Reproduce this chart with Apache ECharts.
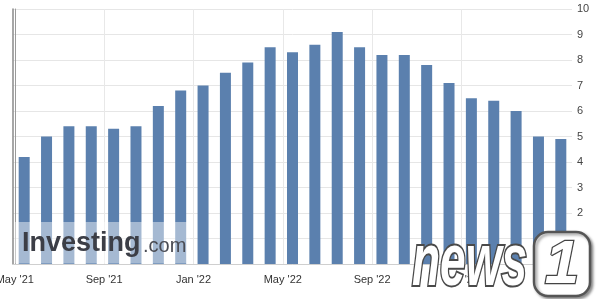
<!DOCTYPE html>
<html><head><meta charset="utf-8">
<script src="https://cdn.jsdelivr.net/npm/echarts@6/dist/echarts.min.js"></script>
<style>html,body{margin:0;padding:0;background:#fff}#c{width:600px;height:299px}</style>
</head><body><div id="c"></div>
<script>
const months = ["Apr '21","May '21","Jun '21","Jul '21","Aug '21","Sep '21","Oct '21","Nov '21","Dec '21",
  "Jan '22","Feb '22","Mar '22","Apr '22","May '22","Jun '22","Jul '22","Aug '22","Sep '22","Oct '22","Nov '22","Dec '22",
  "Jan '23","Feb '23","Mar '23","Apr '23"];
const cpiValues = [4.2,5.0,5.4,5.4,5.3,5.4,6.2,6.8,7.0,7.5,7.9,8.5,8.3,8.6,9.1,8.5,8.2,8.2,7.8,7.1,6.5,6.4,6.0,5.0,4.9];
const tickMonths = [0,4,8,12,16,20];
const tickLabels = ["May '21","Sep '21","Jan '22","May '22","Sep '22","Jan '23"];

const chart = echarts.init(document.getElementById('c'), null, {renderer:'canvas'});
const FONT = 'Liberation Sans, Arial, sans-serif';
chart.setOption({
  animation:false,
  backgroundColor:'#fff',
  grid:{left:13,right:28,top:9,bottom:35,containLabel:false,outerBoundsMode:'none'},
  xAxis:[{
    type:'category', data:months, boundaryGap:true,
    axisLine:{show:true,lineStyle:{color:'#cfcfcf'}},
    axisTick:{show:false}, axisLabel:{show:false}, splitLine:{show:false}
  },{
    type:'value', min:-0.08, max:24.95, position:'bottom',
    axisLine:{show:false},
    axisTick:{show:false, customValues:tickMonths},
    axisLabel:{customValues:tickMonths, color:'#333', fontSize:11, fontFamily:FONT, margin:10,
      formatter:v=>{const i=tickMonths.indexOf(Math.round(v));return i>=0?tickLabels[i]:'';}},
    splitLine:{show:true,lineStyle:{color:'#e8e8e8'}}
  }],
  yAxis:[{
    type:'value', position:'right', min:0, max:10, interval:1,
    axisLine:{show:true,lineStyle:{color:'#9a9a9a'}},
    axisTick:{show:false},
    axisLabel:{color:'#444',fontSize:11,fontFamily:FONT,margin:5,showMinLabel:false},
    splitLine:{show:true,lineStyle:{color:'#e6e6e6'}}
  },{
    type:'value', position:'left', min:0, max:10,
    axisLine:{show:true,lineStyle:{color:'#8a8a8a',width:1.5}},
    axisTick:{show:false}, axisLabel:{show:false}, splitLine:{show:false}
  }],
  series:[{
    type:'bar', xAxisIndex:0, yAxisIndex:0, data:cpiValues, barWidth:11,
    itemStyle:{color:'#5b80ae'}
  }],
  graphic:[
    {type:'rect', z:100, shape:{x:14,y:222,width:176,height:41.5}, style:{fill:'rgba(255,255,255,0.45)'}},
    {type:'text', z:101, x:22, y:243.5, style:{text:'Investing', font:'bold 27px '+FONT, fill:'#3c3e46', verticalAlign:'middle'}},
    {type:'text', z:101, x:143, y:246, style:{text:'.com', font:'20px '+FONT, fill:'#4a4c54', verticalAlign:'middle'}},
    {type:'text', z:102, x:412, y:265, scaleY:1.6, originX:0, originY:0,
      style:{text:'news', font:'italic bold 46px '+FONT, fill:'#fff', stroke:'#4a4a4a', lineWidth:2.5, verticalAlign:'middle',
        shadowColor:'rgba(0,0,0,0.5)', shadowBlur:3, shadowOffsetX:2, shadowOffsetY:2}},
    {type:'rect', z:102, shape:{x:534,y:232,width:56,height:64,r:14},
      style:{fill:'#fff', stroke:'#555', lineWidth:2.5, shadowColor:'rgba(0,0,0,0.4)', shadowBlur:3, shadowOffsetX:2, shadowOffsetY:2}},
    {type:'text', z:103, x:562, y:266,
      style:{text:'1', font:'italic bold 62px '+FONT, fill:'#fff', stroke:'#444', lineWidth:2.5, align:'center', verticalAlign:'middle'}}
  ]
});
</script></body></html>
